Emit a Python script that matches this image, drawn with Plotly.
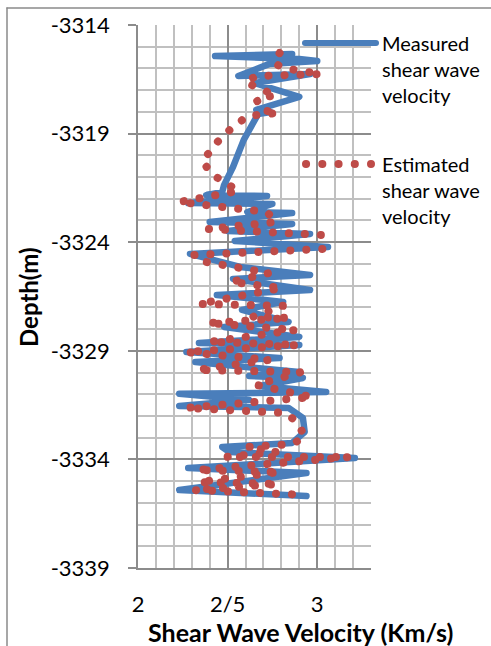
import plotly.graph_objects as go

# ---------------- data ----------------
meas_x = [2.86, 2.43, 2.90, 3.00, 2.73, 2.56, 2.96, 2.65, 2.90, 2.66, 2.74, 2.67,
          2.59, 2.53, 2.48, 2.47, 2.38, 2.72, 2.28, 2.75, 2.61, 2.86, 2.40, 2.86,
          2.50, 2.96, 2.54, 3.06, 2.29, 2.57, 2.96, 2.53, 2.96, 2.44, 2.81, 2.58,
          2.84, 2.48, 2.90, 2.34, 2.90, 2.27, 2.79, 2.32, 2.90, 2.62, 2.92, 2.68,
          3.05, 2.23, 2.62, 2.23, 2.84, 2.92, 2.93, 2.86, 2.47, 2.51, 3.21, 2.28,
          2.94, 2.23, 2.94]
meas_depth = [-3315.34, -3315.43, -3315.57, -3315.66, -3315.80, -3316.35, -3316.26,
              -3316.67, -3317.31, -3317.91, -3318.01, -3318.10, -3319.29, -3320.54,
              -3321.37, -3321.69, -3321.83, -3321.87, -3322.20, -3322.24, -3322.61,
              -3322.66, -3323.07, -3323.16, -3323.48, -3323.62, -3323.94, -3324.22,
              -3324.54, -3325.14, -3325.51, -3325.69, -3326.20, -3326.43, -3326.75,
              -3327.12, -3327.67, -3327.90, -3328.36, -3328.64, -3328.73, -3329.06,
              -3329.33, -3329.52, -3329.98, -3330.16, -3330.25, -3330.62, -3330.90,
              -3330.98, -3331.27, -3331.54, -3331.63, -3332.09, -3332.74, -3333.24,
              -3333.43, -3333.66, -3333.94, -3334.40, -3334.63, -3335.41, -3335.69]

est_x = [2.79, 2.76, 2.81, 3.02, 2.66, 2.60, 2.68, 2.77, 2.66, 2.69, 2.78, 2.61,
         2.47, 2.36, 2.41, 2.56, 2.23, 2.72, 2.77, 2.39, 3.03, 3.03, 2.31, 2.38,
         2.73, 2.52, 2.80, 2.34, 2.81, 2.64, 2.84, 2.39, 2.88, 2.40, 2.89, 2.27,
         2.73, 2.33, 2.91, 2.66, 2.97, 2.27, 2.82, 2.89, 2.93, 2.86, 2.61, 2.77,
         2.49, 3.18, 2.33, 2.79, 2.34, 2.78, 2.31, 2.94]
est_depth = [-3315.29, -3315.75, -3315.98, -3316.26, -3316.35, -3316.62, -3316.95,
             -3317.22, -3317.41, -3317.91, -3318.05, -3318.19, -3319.11, -3320.26,
             -3320.86, -3321.64, -3322.15, -3322.61, -3323.07, -3323.39, -3323.67,
             -3324.31, -3324.59, -3324.91, -3325.42, -3325.83, -3326.11, -3326.84,
             -3326.93, -3327.44, -3327.49, -3327.72, -3328.04, -3328.59, -3328.73,
             -3329.06, -3329.42, -3329.88, -3329.98, -3330.57, -3331.13, -3331.63,
             -3331.86, -3332.28, -3332.97, -3333.29, -3333.43, -3333.66, -3333.89,
             -3333.89, -3334.49, -3334.58, -3335.04, -3335.13, -3335.41, -3335.64]

x_tickvals = [2, 2.5, 3]
x_ticktext = ["2", "2/5", "3"]
y_tickvals = [-3314, -3319, -3324, -3329, -3334, -3339]
y_ticktext = ["-3314", "-3319", "-3324", "-3329", "-3334", "-3339"]

series_names = ["Measured<br>shear wave<br>velocity", "Estimated<br>shear wave<br>velocity"]

# ---------------- figure ----------------
W, H = 491, 646
L, R, T, B = 138, 120, 25, 78
PW, PH = W - L - R, H - T - B


def px(xp):
    return (xp - L) / PW


def py(yp):
    return (H - B - yp) / PH


FONT = "Lato"
BLUE = "#4A7EBB"
RED = "#BE4B48"
MAJ = "#8C8C8C"
MIN = "#C0C0C0"

fig = go.Figure()
fig.add_trace(go.Scatter(x=meas_x, y=meas_depth, mode="lines",
                         line=dict(color=BLUE, width=6.5), showlegend=False,
                         hoverinfo="skip"))
fig.add_trace(go.Scatter(x=est_x, y=est_depth, mode="lines",
                         line=dict(color=RED, width=8, dash="0.1px,15.9px"),
                         showlegend=False, hoverinfo="skip"))

shapes = [
    # outer frame (top and left)
    dict(type="line", xref="paper", yref="paper", x0=px(7), x1=px(W + 5), y0=py(8), y1=py(8),
         line=dict(color="#8A8A8A", width=1.5)),
    dict(type="line", xref="paper", yref="paper", x0=px(7), x1=px(7), y0=py(8), y1=py(H + 5),
         line=dict(color="#8A8A8A", width=1.5)),
    # legend samples
    dict(type="line", xref="paper", yref="paper", x0=px(305), x1=px(376), y0=py(43), y1=py(43),
         line=dict(color=BLUE, width=6)),
    dict(type="line", xref="paper", yref="paper", x0=px(306), x1=px(371), y0=py(164), y1=py(164),
         line=dict(color=RED, width=8, dash="0.1px,16.15px")),
]

annotations = [
    dict(xref="paper", yref="paper", x=px(380), y=py(29), xanchor="left", yanchor="top",
         text=series_names[0], showarrow=False, align="left",
         font=dict(family=FONT, size=20, color="#000000")),
    dict(xref="paper", yref="paper", x=px(380), y=py(150), xanchor="left", yanchor="top",
         text=series_names[1], showarrow=False, align="left",
         font=dict(family=FONT, size=20, color="#000000")),
    dict(xref="paper", yref="paper", x=px(28), y=py(297), xanchor="center", yanchor="middle",
         text="<b>Depth(m)</b>", textangle=-90, showarrow=False,
         font=dict(family=FONT, size=24, color="#000000")),
    dict(xref="paper", yref="paper", x=px(300), y=py(632), xanchor="center", yanchor="middle",
         text="<b>Shear Wave Velocity (Km/s)</b>", showarrow=False,
         font=dict(family=FONT, size=25, color="#000000")),
]

fig.update_layout(
    width=W, height=H, autosize=False,
    margin=dict(l=L, r=R, t=T, b=B, pad=0),
    paper_bgcolor="white", plot_bgcolor="white",
    showlegend=False,
    shapes=shapes, annotations=annotations,
    xaxis=dict(range=[2, 3.3], tickvals=x_tickvals, ticktext=x_ticktext,
               showgrid=True, gridcolor=MAJ, gridwidth=1.5,
               minor=dict(tick0=2, dtick=0.1, showgrid=True, gridcolor=MIN, gridwidth=1.5),
               showline=True, linecolor=MAJ, linewidth=1.5,
               zeroline=False, ticks="", ticklabelstandoff=16,
               tickfont=dict(family=FONT, size=22, color="#000000"), fixedrange=True),
    yaxis=dict(range=[-3339, -3314], tickvals=y_tickvals, ticktext=y_ticktext,
               showgrid=True, gridcolor=MAJ, gridwidth=1.5,
               minor=dict(tick0=-3339, dtick=1, showgrid=True, gridcolor=MIN, gridwidth=1.5),
               showline=True, linecolor=MAJ, linewidth=1.5,
               zeroline=False, ticks="outside", ticklen=8, tickcolor=MAJ, tickwidth=1.5,
               ticklabelstandoff=14,
               tickfont=dict(family=FONT, size=22, color="#000000"), fixedrange=True),
)

post = ("var s=document.createElement('style');"
        "s.innerHTML='.js-line, .shapelayer path{stroke-linecap:round !important;"
        "stroke-linejoin:round !important;}';"
        "document.head.appendChild(s);")

fig.write_html("out.html", config={"displayModeBar": False}, post_script=post)
